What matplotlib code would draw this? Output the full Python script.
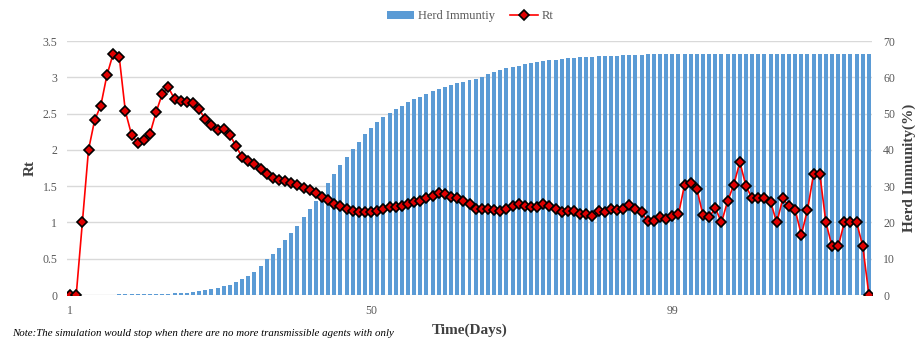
import matplotlib.pyplot as plt
import numpy as np

plt.rcParams['font.family'] = ['Liberation Serif', 'DejaVu Serif']

days = np.arange(1, 132)

rt = [0, 0, 1.0, 2.0, 2.41, 2.61, 3.03, 3.32, 3.28, 2.53,
      2.21, 2.10, 2.14, 2.22, 2.52, 2.77, 2.86, 2.70, 2.68, 2.66,
      2.65, 2.56, 2.42, 2.34, 2.28, 2.29, 2.21, 2.05, 1.90, 1.84,
      1.80, 1.74, 1.67, 1.61, 1.59, 1.57, 1.54, 1.51, 1.47, 1.44,
      1.40, 1.35, 1.31, 1.26, 1.22, 1.19, 1.16, 1.15, 1.14, 1.15,
      1.16, 1.18, 1.21, 1.21, 1.23, 1.25, 1.28, 1.29, 1.33, 1.37,
      1.40, 1.39, 1.35, 1.34, 1.30, 1.25, 1.19, 1.19, 1.18, 1.17,
      1.16, 1.19, 1.23, 1.25, 1.22, 1.21, 1.21, 1.25, 1.22, 1.19,
      1.15, 1.16, 1.16, 1.11, 1.11, 1.09, 1.16, 1.14, 1.18, 1.17,
      1.18, 1.24, 1.19, 1.14, 1.02, 1.02, 1.07, 1.05, 1.09, 1.11,
      1.52, 1.54, 1.46, 1.10, 1.07, 1.20, 1.00, 1.29, 1.52, 1.83,
      1.50, 1.33, 1.33, 1.33, 1.28, 1.00, 1.33, 1.22, 1.17, 0.83,
      1.17, 1.67, 1.67, 1.00, 0.67, 0.67, 1.00, 1.00, 1.00, 0.67,
      0]

herd = [0, 0, 0, 0, 0, 0.1, 0.1, 0.1, 0.15, 0.15,
        0.2, 0.2, 0.25, 0.3, 0.3, 0.35, 0.4, 0.45, 0.5, 0.6,
        0.8, 1.1, 1.4, 1.7, 2.0, 2.4, 2.8, 3.6, 4.4, 5.3,
        6.4, 8.1, 9.8, 11.3, 13.0, 15.2, 17.0, 19.1, 21.5, 23.7,
        26.0, 28.4, 30.8, 33.3, 35.7, 38.1, 40.3, 42.3, 44.3, 46.1,
        47.6, 49.1, 50.1, 51.3, 52.2, 53.1, 53.9, 54.7, 55.5, 56.1,
        56.8, 57.4, 57.9, 58.3, 58.8, 59.3, 59.6, 60.2, 60.9, 61.5,
        62.1, 62.5, 62.8, 63.2, 63.6, 63.8, 64.1, 64.4, 64.7, 64.9,
        65.0, 65.2, 65.3, 65.5, 65.6, 65.7, 65.8, 65.9, 66.0, 66.0,
        66.1, 66.1, 66.2, 66.2, 66.3, 66.3, 66.3, 66.4, 66.4, 66.4,
        66.4, 66.4, 66.4, 66.4, 66.4, 66.4, 66.4, 66.4, 66.4, 66.4,
        66.4, 66.4, 66.4, 66.4, 66.4, 66.4, 66.4, 66.4, 66.4, 66.4,
        66.4, 66.4, 66.4, 66.4, 66.4, 66.4, 66.4, 66.4, 66.4, 66.4,
        66.4]

xticks = [1, 50, 99]
W, H = 924, 343

fig = plt.figure(figsize=(W / 100, H / 100), dpi=100)
ax = fig.add_axes([67 / W, 1 - 295 / H, 805 / W, 254 / H])

# bars on the main axes (right-hand scale), line on a twin (left-hand scale)
bars = ax.bar(days, herd, width=0.65, color='#5B9BD5', label='Herd Immuntiy', zorder=2)
ax.set_ylim(0, 70)
ax.set_xlim(0.5, 131.5)
ax.set_yticks(np.arange(0, 71, 10))
ax.grid(axis='y', color='#D9D9D9', linewidth=1)
ax.set_axisbelow(True)

ax2 = ax.twinx()
line, = ax2.plot(days, rt, color='#FF0000', linewidth=1.2, marker='D', markersize=4.8,
                 markerfacecolor='#E00000', markeredgecolor='black', markeredgewidth=1.2,
                 label='Rt', zorder=3)
ax2.set_ylim(0, 3.5)
ax2.set_yticks(np.arange(0, 3.51, 0.5))
ax2.set_yticklabels(['0', '0.5', '1', '1.5', '2', '2.5', '3', '3.5'])
# twinx puts the parent on the left, so swap sides after it
ax.yaxis.tick_right()
ax2.yaxis.tick_left()

ax.set_xticks(xticks)
for a in (ax, ax2):
    for s in a.spines.values():
        s.set_visible(False)
    a.tick_params(length=0, labelsize=8.5, labelcolor='#595959')
ax.tick_params(axis='y', pad=8)
ax2.tick_params(axis='y', pad=7)
ax.tick_params(axis='x', pad=7)

fig.text(30 / W, 1 - 168 / H, 'Rt', rotation=90, fontsize=11, fontweight='bold',
         color='#404040', ha='center', va='center')
fig.text(909 / W, 1 - 168 / H, 'Herd Immunity(%)', rotation=90, fontsize=11,
         fontweight='bold', color='#404040', ha='center', va='center')
fig.text(470 / W, 1 - 330 / H, 'Time(Days)', fontsize=11, fontweight='bold',
         color='#404040', ha='center', va='center')
fig.text(12 / W, 1 - 333 / H,
         'Note:The simulation would stop when there are no more transmissible agents with only',
         fontsize=7.8, style='italic', color='black', ha='left', va='center')

fig.legend([bars, line], ['Herd Immuntiy', 'Rt'], loc='center', bbox_to_anchor=(470 / W, 1 - 16 / H),
           ncol=2, frameon=False, fontsize=9, handlelength=2.2, handleheight=0.6,
           columnspacing=1.2, handletextpad=0.3, labelcolor='#595959')

fig.savefig('out.png', dpi=100)
